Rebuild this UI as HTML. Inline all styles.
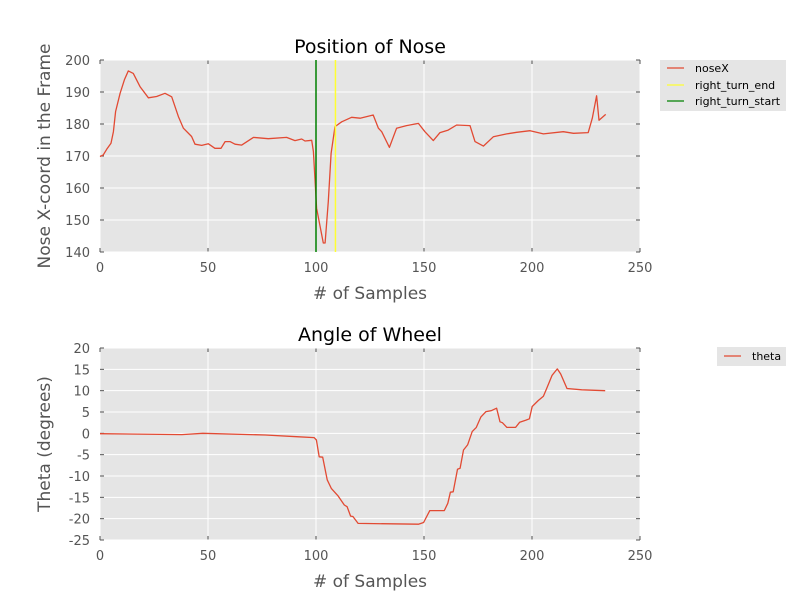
<!DOCTYPE html>
<html><head><meta charset="utf-8"><style>
body{margin:0;background:#fff;}
svg{display:block;font-family:"DejaVu Sans","Liberation Sans",sans-serif;}
</style></head><body>
<svg id="c" width="800" height="600" xmlns="http://www.w3.org/2000/svg"></svg>
<script>
const noseS=[0,1.5,3.1,5.1,6.2,7.2,9.3,11.3,13.1,15.4,18.5,22.4,26.2,30.1,33.2,36.3,38.6,42.4,44,47.1,50.2,53.2,56,57.9,60.2,62.5,65.6,71,77.9,86.4,90.3,93.4,94.9,98,98.8,100.3,103.4,104.2,105.7,107,108.8,111.9,116.5,120.4,126.5,128.9,130.4,134,137.3,141.9,147.4,150.4,154.3,157.4,161.2,165.1,171.3,173.6,177.5,182.1,188.3,192.9,199.1,205.3,214.5,219.2,226,227.9,229.9,231,234.1];
const noseX=[169.8,170.3,172.1,174,177.6,183.9,189.6,193.8,196.6,195.8,191.7,188.2,188.6,189.6,188.5,182.3,178.7,176.1,173.7,173.3,173.8,172.4,172.4,174.5,174.5,173.7,173.4,175.8,175.4,175.8,174.8,175.3,174.7,174.9,171.4,153.7,142.8,142.8,155.8,170.8,179.2,180.7,182.1,181.8,182.8,178.7,177.6,172.7,178.7,179.5,180.2,177.6,174.8,177.3,178.1,179.7,179.5,174.5,173.1,176,176.9,177.4,177.9,176.9,177.6,177.1,177.3,181.8,188.8,181.2,183];
const turnStart=[100];
const turnEnd=[109];
const thetaS=[0,37.9,47.6,76.5,91,99.1,100.2,101.5,103.1,105.2,107.1,110.3,113.1,114.4,116,117.1,119.5,147.4,149.8,152.7,159.4,161,162.2,163.5,165.5,166.7,168.3,170.2,172.3,174.2,176.3,178.7,181.1,183.6,185.2,186.3,188.4,192.4,194.3,197.2,198.8,200.1,202.9,205.3,206.6,209.3,211.7,213.3,216.2,223,233.9];
const theta=[-0.08,-0.3,0,-0.39,-0.78,-1.0,-1.56,-5.5,-5.6,-10.9,-12.9,-14.7,-16.8,-17.2,-19.4,-19.5,-21.1,-21.3,-20.9,-18.1,-18.1,-16.4,-13.8,-13.7,-8.4,-8.2,-3.9,-2.7,0.4,1.4,3.8,5.1,5.3,5.9,2.7,2.5,1.4,1.4,2.6,3.1,3.4,6.3,7.7,8.7,10.3,13.6,15.1,13.9,10.5,10.2,10.0];
const xTicks=[0,50,100,150,200,250];
const yTicks1=[140,150,160,170,180,190,200];
const yTicks2=[-25,-20,-15,-10,-5,0,5,10,15,20];

const svg=document.getElementById('c');
const NS='http://www.w3.org/2000/svg';
function mk(tag,attrs,parent){const e=document.createElementNS(NS,tag);for(const k in attrs)e.setAttribute(k,attrs[k]);(parent||svg).appendChild(e);return e;}
function txt(s,attrs){const e=mk('text',attrs);e.textContent=s;return e;}

function panel(top,bottom,ymin,ymax,yT,name,title,ylabel){
  const L=100,R=640;
  const sx=v=>L+(v-0)/(250-0)*(R-L);
  const sy=v=>bottom-(v-ymin)/(ymax-ymin)*(bottom-top);
  const g=mk('rect',{x:L,y:top,width:R-L,height:bottom-top,fill:'#e5e5e5'});
  
  
  xTicks.forEach(t=>{
    const l=mk('line',{x1:sx(t),x2:sx(t),y1:top,y2:bottom,stroke:'#fff','stroke-width':1});
    
    
    mk('line',{x1:sx(t),x2:sx(t),y1:bottom,y2:bottom-4,stroke:'#555'});
    mk('line',{x1:sx(t),x2:sx(t),y1:top,y2:top+4,stroke:'#555'});
    const tl=txt(String(t),{x:sx(t),y:bottom+20,'text-anchor':'middle','font-size':13,fill:'#555'});
    
    
  });
  yT.forEach(t=>{
    const l=mk('line',{x1:L,x2:R,y1:sy(t),y2:sy(t),stroke:'#fff','stroke-width':1});
    
    
    mk('line',{x1:L,x2:L+4,y1:sy(t),y2:sy(t),stroke:'#555'});
    mk('line',{x1:R,x2:R-4,y1:sy(t),y2:sy(t),stroke:'#555'});
    const tl=txt(String(t),{x:L-10,y:sy(t)+5,'text-anchor':'end','font-size':13,fill:'#555'});
    
    
  });
  const tt=txt(title,{x:370,y:top-7,'text-anchor':'middle','font-size':19,fill:'#000'});
  
  
  const xl=txt('# of Samples',{x:370,y:bottom+47,'text-anchor':'middle','font-size':17,fill:'#555'});
  
  
  const cy=(top+bottom)/2;
  const yl=txt(ylabel,{x:50,y:cy,'text-anchor':'middle','font-size':17,fill:'#555',transform:'rotate(-90 50 '+cy+')'});
  
  
  return {sx,sy};
}

const p1=panel(60,252,140,200,yTicks1,'nose','Position of Nose','Nose X-coord in the Frame');
const d1=noseS.map((s,i)=>(i?'L':'M')+p1.sx(s).toFixed(1)+' '+p1.sy(noseX[i]).toFixed(1)).join(' ');
const l1=mk('path',{d:d1,fill:'none',stroke:'#e24a33','stroke-width':1.3,'stroke-linejoin':'round'});


turnEnd.forEach(v=>{
  const e=mk('line',{x1:p1.sx(v),x2:p1.sx(v),y1:60,y2:252,stroke:'#ffff33','stroke-width':1.5});
  
  
});
turnStart.forEach(v=>{
  const e=mk('line',{x1:p1.sx(v),x2:p1.sx(v),y1:60,y2:252,stroke:'#008000','stroke-width':1.5});
  
  
});

const p2=panel(348,540,-25,20,yTicks2,'wheel','Angle of Wheel','Theta (degrees)');
const d2=thetaS.map((s,i)=>(i?'L':'M')+p2.sx(s).toFixed(1)+' '+p2.sy(theta[i]).toFixed(1)).join(' ');
const l2=mk('path',{d:d2,fill:'none',stroke:'#e24a33','stroke-width':1.3,'stroke-linejoin':'round'});



// legends
const lg1=mk('g',{});


mk('rect',{x:660,y:60,width:126,height:51,fill:'#e5e5e5'},lg1);
[['noseX','#e24a33',68],['right_turn_end','#ffff33',85],['right_turn_start','#008000',101]].forEach(r=>{
  const e=mk('g',{},lg1);
  
  
  mk('line',{x1:667,x2:684,y1:r[2],y2:r[2],stroke:r[1],'stroke-width':1.3},e);
  const t=mk('text',{x:695,y:r[2]+4,'font-size':11,fill:'#000'},e);t.textContent=r[0];
});
const lg2=mk('g',{});


mk('rect',{x:717,y:347,width:69,height:19,fill:'#e5e5e5'},lg2);
mk('line',{x1:724,x2:741,y1:356,y2:356,stroke:'#e24a33','stroke-width':1.3},lg2);
const t2=mk('text',{x:752,y:360,'font-size':11,fill:'#000'},lg2);t2.textContent='theta';
</script>
</body></html>
